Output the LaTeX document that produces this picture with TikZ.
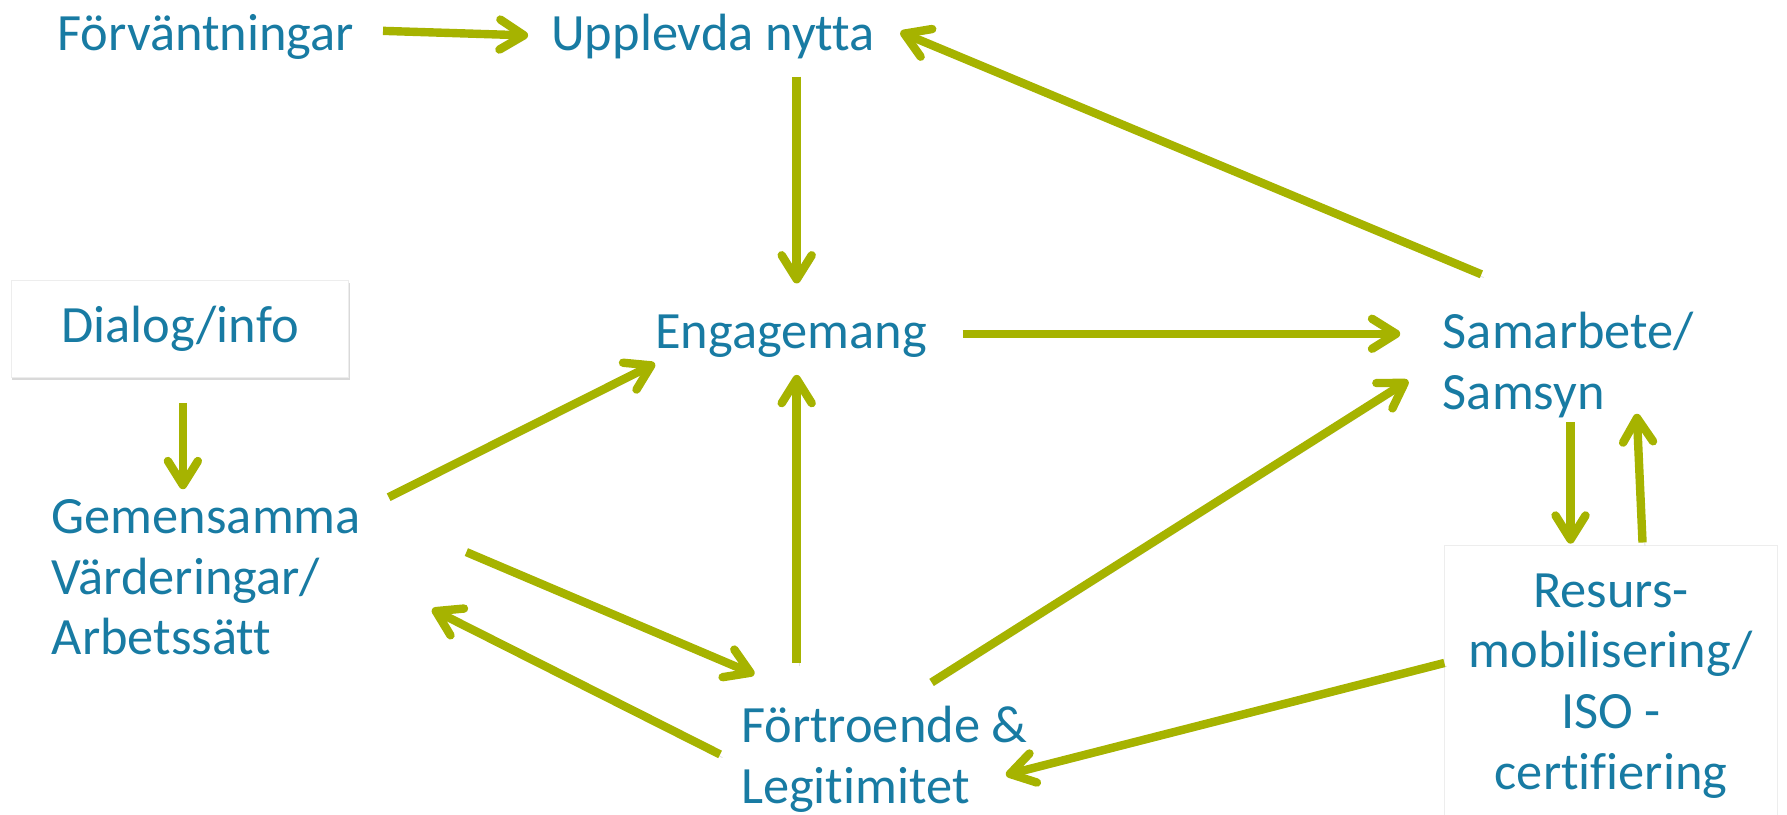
\documentclass[tikz,border=0pt]{standalone}
\usepackage{fontspec}
\setmainfont{Carlito}[Ligatures=NoCommon]
\usetikzlibrary{arrows.meta,shadows}
\definecolor{textblue}{RGB}{24,123,163}
\definecolor{arrowgreen}{RGB}{166,179,0}

\begin{document}
\begin{tikzpicture}[x=0.5715pt,y=-0.5715pt,
    txt/.style={text=textblue,font=\fontsize{26.2}{30.3}\selectfont,inner sep=0pt,align=left},
    infobox/.style={txt,fill=white,draw=black!7,line width=0.4pt,align=center,drop shadow={shadow xshift=0.5pt,shadow yshift=-1.6pt,opacity=0.3}},
    flowarrow/.style={-{Straight Barb[length=12pt,width=15pt,line cap=round,line join=round]},line width=4.2pt,color=arrowgreen,
        preaction={draw=black!60,opacity=0.2,transform canvas={shift={(1.2pt,-1.6pt)}}}}]
    \useasboundingbox (0,0) rectangle (1563.4,713);

    \node (0) at (50,44)   [txt,anchor=base west] {Förväntningar};
    \node (1) at (482,44)  [txt,anchor=base west] {Upplevda nytta};
    \node (2) at (573,305) [txt,anchor=base west] {Engagemang};
    \node (3) at (1262,358) [txt,anchor=base west] {Samarbete/\\Samsyn};
    \node (4) at (157.5,287.5) [infobox,minimum width=168.6pt,minimum height=48.6pt] {Dialog/info};
    \node (5) at (45,573)  [txt,anchor=base west] {Gemensamma\\Värderingar/\\Arbetssätt};
    \node (6) at (648,703) [txt,anchor=base west] {Förtroende \&\\Legitimitet};
    \node (7) at (1409.5,600) [infobox,minimum width=166.3pt,minimum height=140.6pt] {Resurs-\\mobilisering/\\ISO -\\certifiering};

    \draw[flowarrow] ([shift={(25,-17)}]0.base east) to ([shift={(-20,-13)}]1.base west);
    \draw[flowarrow] ([shift={(215,23)}]1.base west) to ([shift={(124,-57)}]2.base west);
    \draw[flowarrow] ([shift={(34,-118)}]3.base west) to ([shift={(22,-16)}]1.base east);
    \draw[flowarrow] ([shift={(31,-13)}]2.base east) to ([shift={(-37,-66)}]3.base west);
    \draw[flowarrow] ([shift={(2.5,22)}]4.south) to ([shift={(115,-145)}]5.base west);

    \draw[flowarrow] ([shift={(295,-138)}]5.base west) to ([shift={(0,13)}]2.base west);
    \draw[flowarrow] ([shift={(363,-90)}]5.base west) to ([shift={(12,-113)}]6.base west);
    \draw[flowarrow] ([shift={(-18,-43)}]6.base west) to ([shift={(333,-40)}]5.base west);
    \draw[flowarrow] ([shift={(49,-123)}]6.base west) to ([shift={(124,23)}]2.base west);
    \draw[flowarrow] ([shift={(167,-106)}]6.base west) to ([shift={(-30,-25)}]3.base west);

    \draw[flowarrow] ([shift={(112,11)}]3.base west) to ([shift={(-35.5,-1)}]7.north);
    \draw[flowarrow] ([shift={(27.5,-2)}]7.north) to ([shift={(170,4)}]3.base west);
    \draw[flowarrow] ([shift={(0,-20)}]7.west) to ([shift={(232,-25)}]6.base west);

\end{tikzpicture}
\end{document}
